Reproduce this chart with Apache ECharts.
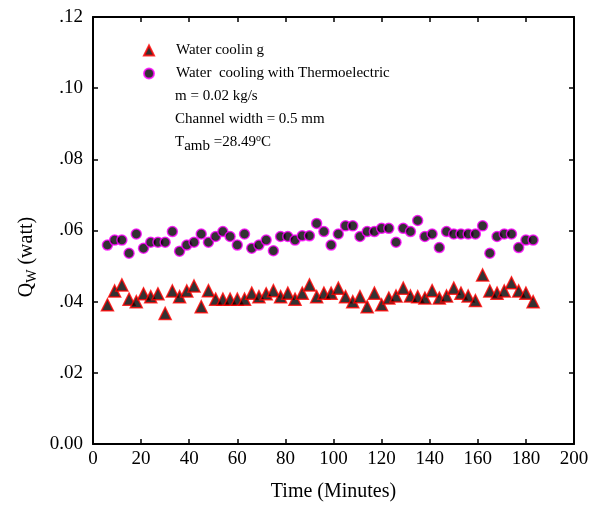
<!DOCTYPE html>
<html>
<head>
<meta charset="utf-8">
<script src="https://cdn.jsdelivr.net/npm/echarts@6/dist/echarts.min.js"></script>
<style>html,body{margin:0;padding:0;background:#fff;}#c{width:603px;height:511px;}</style>
</head>
<body>
<div id="c"></div>
<script>
var times = [6,9,12,15,18,21,24,27,30,33,36,39,42,45,48,51,54,57,60,63,66,69,72,75,78,81,84,87,90,93,96,99,102,105,108,111,114,117,120,123,126,129,132,135,138,141,144,147,150,153,156,159,162,165,168,171,174,177,180,183];
var waterCooling = [0.0391,0.0430,0.0447,0.0407,0.0400,0.0422,0.0414,0.0422,0.0367,0.0430,0.0414,0.0430,0.0444,
  0.0386,0.0431,0.0407,0.0407,0.0407,0.0407,0.0407,0.0424,0.0414,0.0422,0.0431,0.0414,0.0424,
  0.0407,0.0424,0.0447,0.0414,0.0424,0.0424,0.0438,0.0414,0.0400,0.0414,0.0386,0.0424,0.0391,
  0.0410,0.0416,0.0438,0.0416,0.0414,0.0410,0.0431,0.0410,0.0416,0.0438,0.0424,0.0416,0.0403,
  0.0475,0.0430,0.0424,0.0430,0.0453,0.0430,0.0424,0.0400];
var waterCoolingTE = [0.0559,0.0573,0.0573,0.0536,0.0590,0.0550,0.0567,0.0567,0.0567,0.0597,0.0542,0.0559,0.0567,
  0.0590,0.0567,0.0583,0.0597,0.0583,0.0559,0.0590,0.0550,0.0559,0.0573,0.0543,0.0583,0.0583,
  0.0573,0.0585,0.0585,0.0620,0.0597,0.0559,0.0590,0.0613,0.0613,0.0583,0.0597,0.0597,0.0606,
  0.0606,0.0567,0.0606,0.0597,0.0628,0.0583,0.0590,0.0552,0.0597,0.0590,0.0590,0.0590,0.0590,
  0.0613,0.0536,0.0583,0.0590,0.0590,0.0552,0.0573,0.0573];
var xTicks = [0,20,40,60,80,100,120,140,160,180,200];
var yTickLabels = ['0.00','.02','.04','.06','.08','.10','.12'];
var seriesNames = ['Water coolin g','Water  cooling with Thermoelectric'];
var noteLines = ['m = 0.02 kg/s','Channel width = 0.5 mm'];

var FONT = 'Liberation Serif';
function pairs(xs, ys){ return xs.map(function(x,i){return [x, ys[i]];}); }

var chart = echarts.init(document.getElementById('c'));
var axisLine = {show:true, onZero:false, lineStyle:{color:'#000', width:2}};
var axisTick = {show:true, inside:true, length:5, lineStyle:{color:'#000', width:1.5}};
chart.setOption({
  backgroundColor:'#fff',
  animation:false,
  grid:{left:93, right:29, top:17, bottom:67, containLabel:false},
  legend:{
    orient:'vertical', left:138, top:38, itemWidth:10, itemHeight:10, itemGap:8,
    textStyle:{fontFamily:FONT, fontSize:15, color:'#000', padding:[0,0,0,17]},
    data:seriesNames
  },
  xAxis:[{
    type:'value', min:0, max:200, interval:20, position:'bottom',
    axisLine:axisLine, axisTick:axisTick, splitLine:{show:false},
    axisLabel:{fontFamily:FONT, fontSize:19, color:'#000', margin:6},
    name:'Time (Minutes)', nameLocation:'middle', nameGap:38,
    nameTextStyle:{fontFamily:FONT, fontSize:20, color:'#000'}
  },{
    type:'value', min:0, max:200, interval:20, position:'top',
    axisLine:axisLine, axisTick:axisTick, splitLine:{show:false}, axisLabel:{show:false}
  }],
  yAxis:[{
    type:'value', min:0, max:0.12, interval:0.02, position:'left',
    axisLine:axisLine, axisTick:axisTick, splitLine:{show:false},
    axisLabel:{fontFamily:FONT, fontSize:19, color:'#000', margin:10,
      formatter:function(v){ return yTickLabels[Math.round(v/0.02)]; }}
  },{
    type:'value', min:0, max:0.12, interval:0.02, position:'right',
    axisLine:axisLine, axisTick:axisTick, splitLine:{show:false}, axisLabel:{show:false}
  }],
  graphic:[
    {type:'text', x:27, y:257, rotation:Math.PI/2,
      style:{text:'Q{s|W} (watt)', fontFamily:FONT, fontSize:20, fill:'#000', align:'center', verticalAlign:'middle',
        rich:{s:{fontFamily:FONT, fontSize:14, fill:'#000', padding:[10,0,0,0]}}}},
    {type:'text', x:175, y:96, style:{text:noteLines[0], fontFamily:FONT, fontSize:15, fill:'#000', verticalAlign:'middle'}},
    {type:'text', x:175, y:119, style:{text:noteLines[1], fontFamily:FONT, fontSize:15, fill:'#000', verticalAlign:'middle'}},
    {type:'text', x:175, y:142, style:{text:'T{s|amb} =28.49{u|o}C', fontFamily:FONT, fontSize:15, fill:'#000', verticalAlign:'middle',
      rich:{s:{fontFamily:FONT, fontSize:15, fill:'#000', padding:[8,0,0,0]}, u:{fontFamily:FONT, fontSize:10, fill:'#000', padding:[0,0,8,0]}}}}
  ],
  series:[{
    name:seriesNames[0], type:'scatter', symbol:'triangle', symbolSize:12,
    itemStyle:{color:'#000', borderColor:'#ff0000', borderWidth:1.5},
    data:pairs(times, waterCooling)
  },{
    name:seriesNames[1], type:'scatter', symbol:'circle', symbolSize:10,
    itemStyle:{color:'#000', borderColor:'#ff00ff', borderWidth:1.5},
    data:pairs(times, waterCoolingTE)
  }]
});
</script>
</body>
</html>
